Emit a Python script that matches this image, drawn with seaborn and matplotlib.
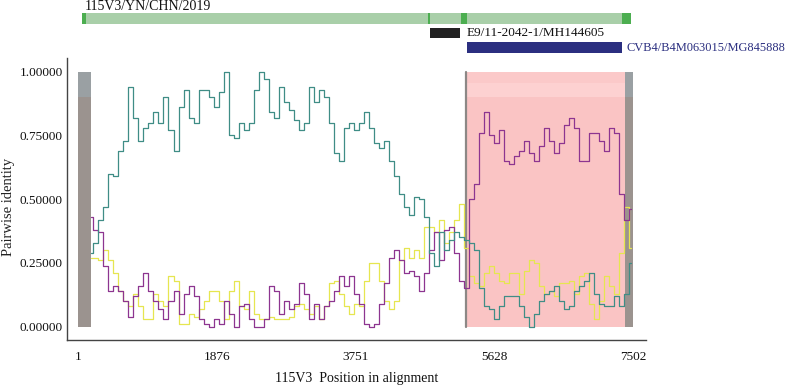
import numpy as np
import pandas as pd
import matplotlib
matplotlib.use("Agg")
import matplotlib.pyplot as plt
import seaborn as sns

# ---------------- data ----------------
start_pos = 180          # first window centre (alignment position)
step = 67.5              # window step
teal_vals = [0.29, 0.33, 0.42, 0.47, 0.60, 0.59, 0.69, 0.73, 0.94, 0.82, 0.73, 0.78, 0.80, 0.84, 0.80, 0.90, 0.77, 0.69, 0.86, 0.93, 0.82, 0.80, 0.93, 0.93, 0.90, 0.86,
             0.92, 1.00, 0.75, 0.74, 0.80, 0.77, 0.80, 0.93, 1.00, 0.97, 0.84, 0.82, 0.94, 0.88, 0.85, 0.81, 0.77, 0.80, 0.94, 0.88, 0.93, 0.90, 0.80, 0.68, 0.65, 0.78, 0.80, 0.77,
             0.80, 0.84, 0.78, 0.72, 0.70, 0.73, 0.65, 0.59, 0.52, 0.47, 0.44, 0.51, 0.50, 0.43, 0.29, 0.24, 0.37, 0.30, 0.34, 0.37, 0.35, 0.34, 0.33, 0.30, 0.15, 0.08, 0.07, 0.03,
             0.08, 0.12, 0.12, 0.12, 0.08, 0.04, 0.00, 0.05, 0.10, 0.13, 0.14, 0.16, 0.10, 0.07, 0.08, 0.14, 0.16, 0.18, 0.21, 0.13, 0.09, 0.08, 0.08, 0.12, 0.08, 0.13, 0.25]
purple_vals = [0.43, 0.38, 0.37, 0.24, 0.14, 0.16, 0.14, 0.10, 0.04, 0.12, 0.16, 0.21, 0.14, 0.10, 0.07, 0.03, 0.10, 0.14, 0.05, 0.13, 0.16, 0.12, 0.03, 0.01, 0.00, 0.03,
               0.01, 0.10, 0.05, 0.00, 0.08, 0.09, 0.03, 0.00, 0.00, 0.03, 0.16, 0.14, 0.05, 0.10, 0.07, 0.09, 0.17, 0.13, 0.03, 0.09, 0.03, 0.08, 0.10, 0.14, 0.20, 0.16, 0.20, 0.13,
               0.09, 0.01, 0.00, 0.01, 0.09, 0.17, 0.27, 0.30, 0.26, 0.21, 0.22, 0.20, 0.14, 0.21, 0.30, 0.37, 0.26, 0.38, 0.39, 0.29, 0.18, 0.15, 0.50, 0.56, 0.76, 0.84, 0.75, 0.72,
               0.77, 0.65, 0.64, 0.67, 0.69, 0.73, 0.68, 0.65, 0.71, 0.78, 0.73, 0.68, 0.72, 0.79, 0.82, 0.78, 0.65, 0.65, 0.76, 0.76, 0.73, 0.69, 0.78, 0.76, 0.52, 0.42, 0.46]
yellow_vals = [0.27, 0.27, 0.26, 0.30, 0.26, 0.21, 0.14, 0.10, 0.08, 0.13, 0.08, 0.03, 0.03, 0.13, 0.10, 0.08, 0.20, 0.18, 0.01, 0.01, 0.05, 0.04, 0.07, 0.10, 0.14, 0.14,
               0.10, 0.03, 0.14, 0.18, 0.08, 0.07, 0.14, 0.05, 0.03, 0.03, 0.04, 0.03, 0.03, 0.03, 0.04, 0.08, 0.09, 0.07, 0.05, 0.08, 0.03, 0.08, 0.17, 0.18, 0.13, 0.08, 0.05, 0.09,
               0.08, 0.18, 0.25, 0.25, 0.18, 0.10, 0.07, 0.10, 0.26, 0.31, 0.27, 0.30, 0.27, 0.39, 0.39, 0.37, 0.42, 0.33, 0.37, 0.42, 0.48, 0.31, 0.20, 0.17, 0.16, 0.21, 0.24, 0.21,
               0.18, 0.17, 0.21, 0.21, 0.13, 0.22, 0.26, 0.25, 0.16, 0.13, 0.14, 0.12, 0.17, 0.17, 0.18, 0.13, 0.20, 0.21, 0.09, 0.03, 0.10, 0.20, 0.16, 0.13, 0.29, 0.47, 0.31]

series_names = ["E9/11-2042-1/MH144605", "CVB4/B4M063015/MG845888", "other"]
series_colors = ["#3f8d86", "#8d3590", "#e6e650"]

x_ticks = [1, 1876, 3751, 5628, 7502]
y_ticks = [0.0, 0.25, 0.5, 0.75, 1.0]

gray_regions = [(1, 177), (7383, 7500)]
recomb_region = (5241, 7383)

query_label = "115V3/YN/CHN/2019"
query_span = (62, 7463)
breakpoint_marks = [(62, 112), (4723, 4754), (5169, 5250), (7341, 7463)]
minor_span = (4754, 5159)
major_span = (5250, 7341)

# ---------------- plotting ----------------
sns.set_style("white")
plt.rcParams["font.family"] = ["Liberation Serif", "DejaVu Serif"]

pos = start_pos + step * np.arange(len(teal_vals))
df = pd.DataFrame({
    "pos": np.concatenate([pos, pos, pos]),
    "identity": teal_vals + purple_vals + yellow_vals,
    "seq": [series_names[0]] * len(pos) + [series_names[1]] * len(pos) + [series_names[2]] * len(pos),
})

W, H = 796, 391
fig = plt.figure(figsize=(W / 100, H / 100), dpi=100)
ax = fig.add_axes([66.7 / W, 51 / H, (646 - 66.7) / W, (340 - 58.3) / H])

# background regions
ax.fill_between(list(recomb_region), 0, 1, color="#fac4c4", lw=0, zorder=0)
ax.fill_between(list(recomb_region), 0.955, 1, color="#fbc9c9", lw=0, zorder=0.1)
ax.fill_between(list(recomb_region), 0.90, 0.955, color="#fdd1d1", lw=0, zorder=0.1)
for a, b in gray_regions:
    ax.fill_between([a, b], 0, 1, color="#9b938f", lw=0, zorder=0.5)
    ax.fill_between([a, b], 0.90, 1, color="#9aa0a3", lw=0, zorder=0.6)
ax.plot([recomb_region[0]] * 2, [0, 1], color="#8c8886", lw=1.6, zorder=0.7)

sns.lineplot(data=df, x="pos", y="identity", hue="seq",
             hue_order=[series_names[2], series_names[1], series_names[0]],
             palette={series_names[0]: series_colors[0], series_names[1]: series_colors[1],
                      series_names[2]: series_colors[2]},
             estimator=None, sort=False, lw=0.9, drawstyle="steps-mid",
             legend=False, ax=ax, zorder=2)

ax.set_xlim(-147.5, 7670)
ax.set_ylim(-0.052, 1.0525)
ax.set_xticks(x_ticks)
ax.set_xticklabels([str(t) for t in x_ticks])
ax.set_yticks(y_ticks)
ax.set_yticklabels([f"{t:.5f}" for t in y_ticks])
ax.tick_params(axis="both", direction="in", length=4.5, width=0.8, colors="#333333",
               labelsize=9.5, labelcolor="#111111")
ax.tick_params(axis="x", pad=8)
ax.tick_params(axis="y", pad=3)
for s in ["top", "right"]:
    ax.spines[s].set_visible(False)
for s in ["left", "bottom"]:
    ax.spines[s].set_color("#444444")
    ax.spines[s].set_linewidth(1.0)

ax.set_xlabel("115V3  Position in alignment", fontsize=10, color="#111111")
ax.set_ylabel("Pairwise identity", fontsize=10.5, color="#222222")
ax.xaxis.set_label_coords(0.5, -0.115)
ax.yaxis.set_label_coords(-0.089, 0.472)

# top annotation bars
axt = fig.add_axes([66.7 / W, (H - 58.3) / H, (646 - 66.7) / W, 58.3 / H], sharex=ax)
axt.set_ylim(58.3, 0)
axt.axis("off")
axt.barh(18.7, query_span[1] - query_span[0], left=query_span[0], height=10.7,
         color="#a9cfa9", lw=0)
for a, b in breakpoint_marks:
    axt.barh(18.7, b - a, left=a, height=10.7, color="#4cae50", lw=0)
axt.barh(32.7, minor_span[1] - minor_span[0], left=minor_span[0], height=10, color="#222222", lw=0)
axt.barh(47.2, major_span[1] - major_span[0], left=major_span[0], height=11, color="#2b2f80", lw=0)
axt.text(99, 6.8, query_label, fontsize=10, va="center", ha="left", color="#111111")
axt.text(5250, 33.2, series_names[0], fontsize=9.5, va="center", ha="left", color="#111111")
axt.text(7410, 48.2, series_names[1], fontsize=8.9, va="center", ha="left", color="#2b2f80",
         clip_on=False)

fig.savefig("out.png", dpi=100)
